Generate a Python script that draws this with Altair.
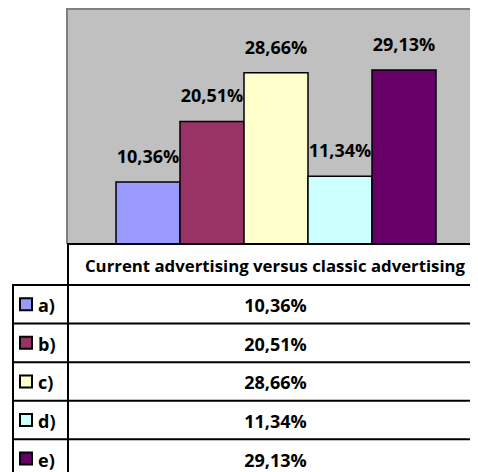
import altair as alt
import pandas as pd

categories = ["a)", "b)", "c)", "d)", "e)"]
values = [10.36, 20.51, 28.66, 11.34, 29.13]
labels = ["10,36%", "20,51%", "28,66%", "11,34%", "29,13%"]
colors = ["#9999FF", "#993366", "#FFFFCC", "#CCFFFF", "#660066"]
series_title = "Current advertising versus classic advertising"

FONT = "Open Sans"
FS = 18
FS_HDR = 16.8

df = pd.DataFrame({
    "cat": categories,
    "value": values,
    "label": labels,
    "ri": [i + 0.5 for i in range(len(categories))],
})
lines_df = pd.DataFrame({"k": list(range(len(categories) + 1))})
hdr_df = pd.DataFrame({"t": [series_title], "zero": [0]})

W, H = 462, 464


def xband():
    return alt.Scale(type="band", domain=categories, range=[60, 476], paddingInner=0, paddingOuter=0.75)


yval = alt.Scale(domain=[0, 40], range=[236, -3], nice=False, zero=True)
yrow = alt.Scale(domain=[0, 4], range=[277, 431.3], nice=False, zero=False)
fill_scale = alt.Scale(domain=categories, range=colors)

panel = alt.Chart(hdr_df).mark_rect(fill="#C0C0C0").encode(
    x=alt.value(59), x2=alt.value(W), y=alt.value(0), y2=alt.value(236)
)
panel_top = alt.Chart(hdr_df).mark_rule(color="#808080", strokeWidth=2).encode(
    x=alt.value(59), x2=alt.value(W), y=alt.value(1)
)
panel_left = alt.Chart(hdr_df).mark_rule(color="#808080", strokeWidth=2).encode(
    x=alt.value(59), y=alt.value(0), y2=alt.value(236)
)

bars = alt.Chart(df).mark_bar(stroke="black", strokeWidth=1.5).encode(
    x=alt.X("cat:N", scale=xband(), axis=None, sort=categories),
    y=alt.Y("value:Q", scale=yval, axis=None, stack=None),
    fill=alt.Fill("cat:N", scale=fill_scale, legend=None),
)
bar_labels = alt.Chart(df).mark_text(
    font=FONT, fontSize=FS, fontWeight="bold", color="black", baseline="middle", dy=-24
).encode(
    x=alt.X("cat:N", scale=xband(), axis=None, sort=categories, bandPosition=0.5),
    y=alt.Y("value:Q", scale=yval, axis=None, stack=None),
    text="label:N",
)

header_line = alt.Chart(hdr_df).mark_rule(color="black", strokeWidth=2).encode(
    x=alt.value(60), x2=alt.value(W),
    y=alt.Y("zero:Q", scale=yval, axis=None),
)
header_text = alt.Chart(hdr_df).mark_text(
    font=FONT, fontSize=FS_HDR, fontWeight="bold", color="black", baseline="middle", dy=2
).encode(x=alt.value(267), y=alt.value(256.5), text="t:N")

row_lines = alt.Chart(lines_df).mark_rule(color="black", strokeWidth=2).encode(
    x=alt.value(5), x2=alt.value(W),
    y=alt.Y("k:Q", scale=yrow, axis=None),
)
left_border = alt.Chart(hdr_df).mark_rule(color="black", strokeWidth=2).encode(
    x=alt.value(5), y=alt.value(276), y2=alt.value(H)
)
col_sep = alt.Chart(hdr_df).mark_rule(color="black", strokeWidth=2).encode(
    x=alt.value(60), y=alt.value(235), y2=alt.value(H)
)

row_vals = alt.Chart(df).mark_text(
    font=FONT, fontSize=FS, fontWeight="bold", color="black", baseline="middle", dy=3
).encode(
    x=alt.value(267.5),
    y=alt.Y("ri:Q", scale=yrow, axis=None),
    text="label:N",
)
row_keys = alt.Chart(df).mark_text(
    font=FONT, fontSize=FS, fontWeight="bold", color="black", baseline="middle", align="left", dy=3
).encode(
    x=alt.value(30),
    y=alt.Y("ri:Q", scale=yrow, axis=None),
    text="cat:N",
)
row_swatch = alt.Chart(df).mark_square(size=144, stroke="black", strokeWidth=2, opacity=1).encode(
    x=alt.value(18),
    y=alt.Y("ri:Q", scale=yrow, axis=None),
    fill=alt.Fill("cat:N", scale=fill_scale, legend=None),
)

chart = alt.layer(
    panel, panel_top, panel_left, bars, bar_labels, header_line, header_text,
    row_lines, left_border, col_sep, row_vals, row_keys, row_swatch,
).resolve_scale(
    x="independent", y="independent", fill="independent"
).properties(
    width=W, height=H, padding=0, autosize=alt.AutoSizeParams(type="none"), background="white"
).configure_view(stroke=None)

chart.save("out.html", embed_options={"renderer": "svg", "actions": False})
